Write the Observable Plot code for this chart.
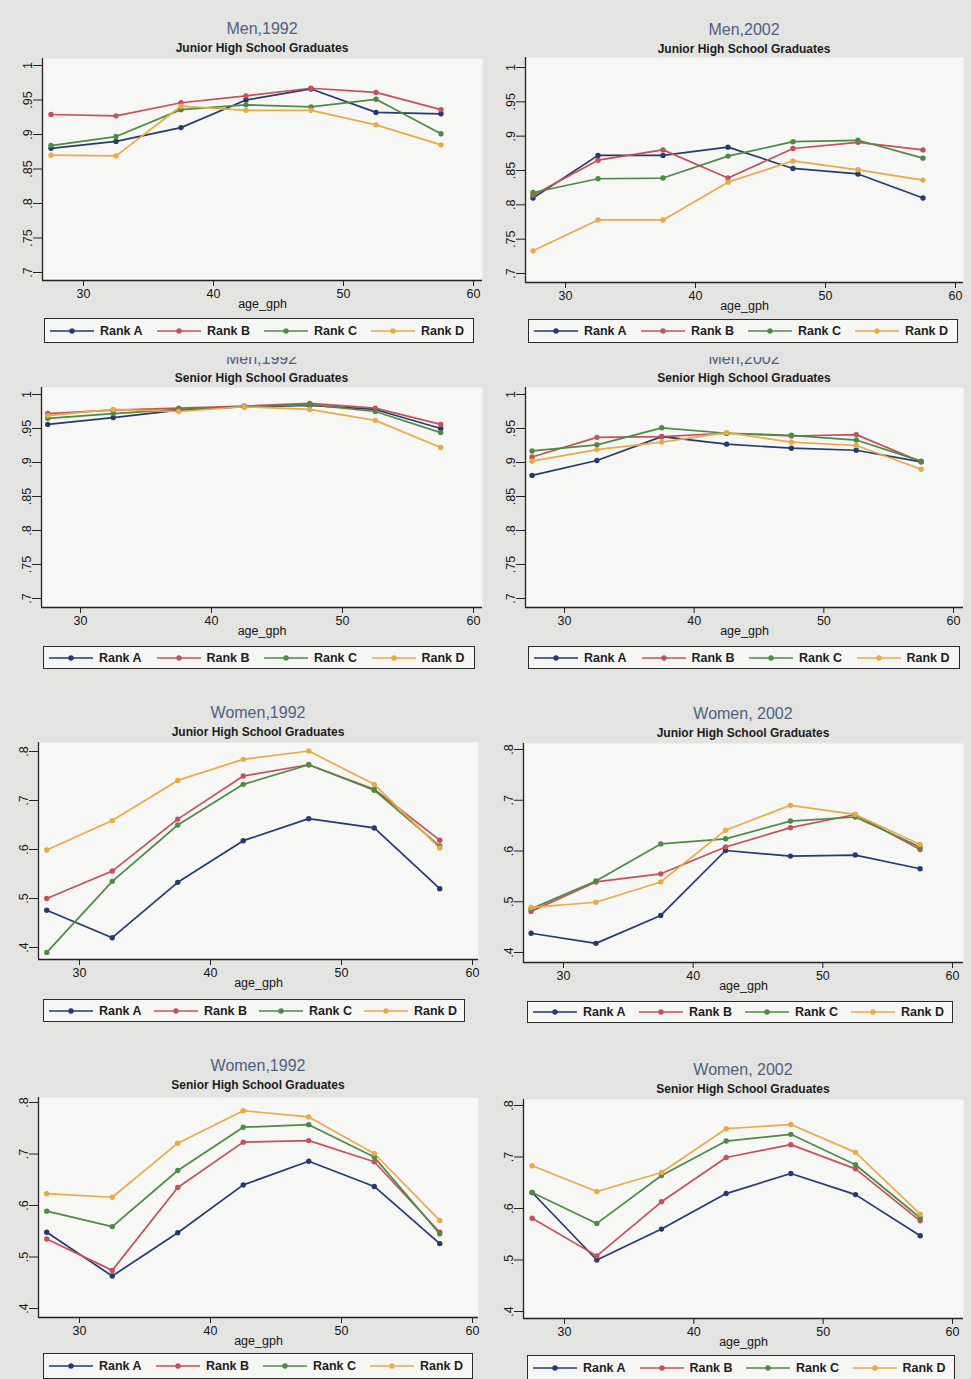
<!DOCTYPE html>
<html><head><meta charset="utf-8">
<script src="https://cdn.jsdelivr.net/npm/d3@7"></script>
<script src="https://cdn.jsdelivr.net/npm/@observablehq/plot@0.6"></script>
<style>
html,body{margin:0;padding:0;background:#e3e3e2;}
body{width:971px;height:1379px;position:relative;overflow:hidden;font-family:"Liberation Sans",Arial,sans-serif;}
.title{position:absolute;text-align:center;font-size:16px;color:#4f5f80;white-space:nowrap;line-height:18px;}
.sub{position:absolute;text-align:center;font-size:12px;font-weight:bold;color:#1c1c1c;white-space:nowrap;line-height:14px;}
.clip{position:absolute;overflow:hidden;}
.legend{position:absolute;box-sizing:border-box;border:1.6px solid #2a2a2a;background:#f6f6f5;display:flex;align-items:center;}
.item{flex:1 1 0;display:flex;align-items:center;padding-left:5px;font-size:12.5px;font-weight:bold;color:#1e1e1e;white-space:nowrap;}
.item svg{margin-right:6px;}
.plot{position:absolute;}
</style>
</head><body>
<script>
// ---- data ----
const ages = [27.5, 32.5, 37.5, 42.5, 47.5, 52.5, 57.5];
const ranks = ["Rank A", "Rank B", "Rank C", "Rank D"];
const titles = ["Men,1992", "Men,2002", "Men,1992", "Men,2002", "Women,1992", "Women, 2002", "Women,1992", "Women, 2002"];
const subtitles = ["Junior High School Graduates", "Junior High School Graduates", "Senior High School Graduates", "Senior High School Graduates",
  "Junior High School Graduates", "Junior High School Graduates", "Senior High School Graduates", "Senior High School Graduates"];
const menTicks = [0.7, 0.75, 0.8, 0.85, 0.9, 0.95, 1];
const womenTicks = [0.4, 0.5, 0.6, 0.7, 0.8];
const xTicks = [30, 40, 50, 60];
const xLabel = "age_gph";

// series per panel: [Rank A, Rank B, Rank C, Rank D]
const men1992Junior = [
  [0.880, 0.890, 0.910, 0.950, 0.966, 0.932, 0.930],
  [0.929, 0.927, 0.946, 0.956, 0.967, 0.961, 0.936],
  [0.884, 0.897, 0.936, 0.943, 0.940, 0.951, 0.901],
  [0.870, 0.869, 0.941, 0.935, 0.935, 0.914, 0.885]];
const men2002Junior = [
  [0.810, 0.872, 0.872, 0.884, 0.853, 0.845, 0.810],
  [0.814, 0.865, 0.880, 0.839, 0.882, 0.891, 0.880],
  [0.818, 0.838, 0.839, 0.871, 0.892, 0.894, 0.868],
  [0.733, 0.778, 0.778, 0.833, 0.864, 0.851, 0.836]];
const men1992Senior = [
  [0.956, 0.966, 0.977, 0.982, 0.984, 0.978, 0.950],
  [0.972, 0.977, 0.980, 0.983, 0.987, 0.980, 0.956],
  [0.965, 0.972, 0.978, 0.982, 0.985, 0.975, 0.944],
  [0.969, 0.978, 0.975, 0.982, 0.978, 0.962, 0.922]];
const men2002Senior = [
  [0.881, 0.903, 0.938, 0.927, 0.921, 0.918, 0.901],
  [0.908, 0.937, 0.938, 0.943, 0.939, 0.941, 0.901],
  [0.917, 0.926, 0.951, 0.943, 0.940, 0.933, 0.902],
  [0.902, 0.919, 0.930, 0.944, 0.930, 0.925, 0.890]];
const women1992Junior = [
  [0.476, 0.420, 0.533, 0.618, 0.663, 0.644, 0.520],
  [0.500, 0.556, 0.662, 0.750, 0.773, 0.723, 0.619],
  [0.390, 0.535, 0.650, 0.733, 0.773, 0.721, 0.607],
  [0.599, 0.659, 0.741, 0.784, 0.801, 0.733, 0.603]];
const women2002Junior = [
  [0.438, 0.418, 0.473, 0.601, 0.590, 0.592, 0.565],
  [0.481, 0.539, 0.555, 0.608, 0.646, 0.672, 0.603],
  [0.486, 0.541, 0.614, 0.624, 0.659, 0.667, 0.608],
  [0.489, 0.499, 0.539, 0.641, 0.690, 0.672, 0.613]];
const women1992Senior = [
  [0.548, 0.463, 0.547, 0.640, 0.686, 0.637, 0.526],
  [0.535, 0.474, 0.635, 0.723, 0.726, 0.685, 0.548],
  [0.589, 0.559, 0.668, 0.752, 0.757, 0.694, 0.545],
  [0.623, 0.616, 0.721, 0.784, 0.772, 0.701, 0.571]];
const women2002Senior = [
  [0.631, 0.500, 0.560, 0.629, 0.668, 0.627, 0.547],
  [0.581, 0.508, 0.613, 0.699, 0.724, 0.677, 0.576],
  [0.631, 0.571, 0.664, 0.731, 0.744, 0.685, 0.582],
  [0.683, 0.633, 0.670, 0.755, 0.763, 0.709, 0.589]];

// ---- styling / layout (not data) ----
const colors = ["#263a6c", "#c4515b", "#4f8a45", "#e8ab48"];
const panels = [
  {series: men1992Junior, ticks: menTicks, L: 42, T: 58, R: 482, B: 280, yTop: 65, yBot: 272, x30: 83, x60: 473, tb: 35, sb: 52, leg: [44, 318, 474, 343]},
  {series: men2002Junior, ticks: menTicks, L: 525, T: 57, R: 963, B: 282, yTop: 67, yBot: 273, x30: 565, x60: 955, tb: 36, sb: 53, leg: [528, 319, 958, 343]},
  {series: men1992Senior, ticks: menTicks, L: 41, T: 387, R: 482, B: 607, yTop: 394, yBot: 598, x30: 80, x60: 473, tb: 365, sb: 382, leg: [43, 646, 475, 669], clip: 357},
  {series: men2002Senior, ticks: menTicks, L: 525, T: 387, R: 963, B: 607, yTop: 394, yBot: 598, x30: 564, x60: 953, tb: 365, sb: 382, leg: [528, 646, 960, 669], clip: 357},
  {series: women1992Junior, ticks: womenTicks, L: 38, T: 742, R: 478, B: 959, yTop: 751, yBot: 947, x30: 79, x60: 472, tb: 719, sb: 736, leg: [43, 999, 465, 1022]},
  {series: women2002Junior, ticks: womenTicks, L: 523, T: 743, R: 963, B: 962, yTop: 749, yBot: 952, x30: 563, x60: 952, tb: 720, sb: 737, leg: [527, 1001, 953, 1023]},
  {series: women1992Senior, ticks: womenTicks, L: 38, T: 1097, R: 478, B: 1317, yTop: 1102, yBot: 1308, x30: 79, x60: 472, tb: 1072, sb: 1089, leg: [43, 1353, 473, 1379]},
  {series: women2002Senior, ticks: womenTicks, L: 523, T: 1099, R: 963, B: 1318, yTop: 1105, yBot: 1311, x30: 564, x60: 952, tb: 1076, sb: 1093, leg: [527, 1355, 955, 1381]}
];

const fmt = d => d === 1 ? "1" : String(d).replace(/^0/, "");

function swatch(color) {
  return `<svg width="44" height="10"><line x1="0" y1="5" x2="44" y2="5" stroke="${color}" stroke-width="1.7"/><circle cx="22" cy="5" r="2.7" fill="${color}"/></svg>`;
}

panels.forEach((p, i) => {
  const vTop = p.ticks[p.ticks.length - 1], vBot = p.ticks[0];
  const ky = (p.yBot - p.yTop) / (vTop - vBot);
  const yDom = [vBot - (p.B - p.yBot) / ky, vTop + (p.yTop - p.T) / ky];
  const kx = (p.x60 - p.x30) / 30;
  const xDom = [30 - (p.x30 - p.L) / kx, 60 + (p.R - p.x60) / kx];

  const rows = [];
  p.series.forEach((vals, r) => vals.forEach((v, j) => rows.push({rank: ranks[r], age: ages[j], value: v})));

  const mL = 34, mR = 4, mT = 2, mB = 34;
  const W = p.R - p.L, H = p.B - p.T;
  const chart = Plot.plot({
    width: W + mL + mR, height: H + mT + mB,
    marginLeft: mL, marginRight: mR, marginTop: mT, marginBottom: mB,
    style: {background: "transparent", fontFamily: "'Liberation Sans', Arial, sans-serif", fontSize: "12.5px", color: "#161616", overflow: "visible"},
    x: {domain: xDom, label: null},
    y: {domain: yDom, label: null},
    color: {domain: ranks, range: colors},
    marks: [
      Plot.frame({fill: "#f7f7f6", stroke: "none"}),
      Plot.line(rows, {x: "age", y: "value", z: "rank", stroke: "rank", strokeWidth: 1.7}),
      Plot.dot(rows, {x: "age", y: "value", fill: "rank", r: 2.7}),
      Plot.ruleX([xDom[0]], {stroke: "#222", strokeWidth: 1.3}),
      Plot.ruleY([yDom[0]], {stroke: "#222", strokeWidth: 1.3}),
      Plot.axisY({ticks: p.ticks, tickSize: 9, tickPadding: 2, tickRotate: -90, tickFormat: fmt, label: null, stroke: "#222"}),
      Plot.axisX({ticks: xTicks, tickSize: 6, tickPadding: 3, tickFormat: d => String(d), label: null, stroke: "#222"}),
      Plot.text([xLabel], {frameAnchor: "bottom", dy: 27, text: d => d, fill: "#161616", fontSize: 12.5})
    ]
  });
  chart.classList.add("plot");
  chart.style.left = (p.L - mL) + "px";
  chart.style.top = (p.T - mT) + "px";
  document.body.appendChild(chart);

  const cx = (p.L + p.R) / 2;
  // title
  const t = document.createElement("div");
  t.className = "title";
  t.textContent = titles[i];
  t.style.width = "300px";
  if (p.clip) {
    const c = document.createElement("div");
    c.className = "clip";
    c.style.left = (cx - 150) + "px";
    c.style.top = p.clip + "px";
    c.style.width = "300px";
    c.style.height = "14px";
    t.style.left = "0px";
    t.style.top = (p.tb - 15 - p.clip) + "px";
    c.appendChild(t);
    document.body.appendChild(c);
  } else {
    t.style.left = (cx - 150) + "px";
    t.style.top = (p.tb - 15) + "px";
    document.body.appendChild(t);
  }
  // subtitle
  const s = document.createElement("div");
  s.className = "sub";
  s.textContent = subtitles[i];
  s.style.width = "300px";
  s.style.left = (cx - 150) + "px";
  s.style.top = (p.sb - 11.3) + "px";
  document.body.appendChild(s);
  // legend
  const lg = document.createElement("div");
  lg.className = "legend";
  lg.style.left = p.leg[0] + "px";
  lg.style.top = p.leg[1] + "px";
  lg.style.width = (p.leg[2] - p.leg[0]) + "px";
  lg.style.height = (p.leg[3] - p.leg[1]) + "px";
  lg.innerHTML = ranks.map((r, k) => `<div class="item">${swatch(colors[k])}<span>${r}</span></div>`).join("");
  document.body.appendChild(lg);
});
</script>
</body></html>
